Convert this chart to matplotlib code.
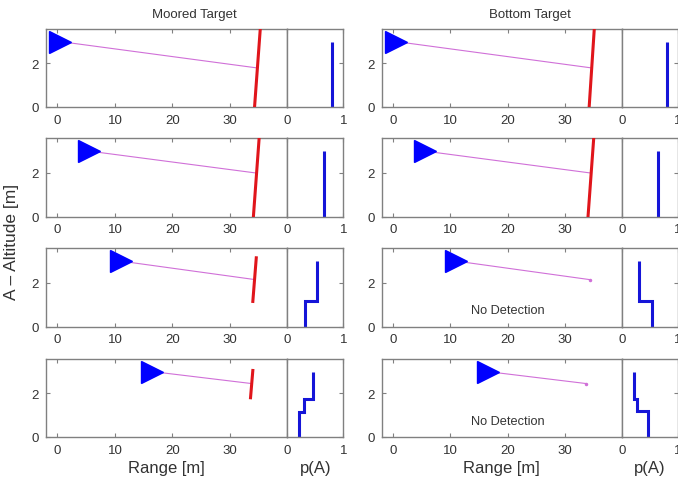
import matplotlib
matplotlib.use("Agg")
import matplotlib.pyplot as plt

plt.rcParams["font.family"] = ["Liberation Sans", "DejaVu Sans"]

columns = ["Moored Target", "Bottom Target"]

# source position (range, altitude) per row
src_range = [0.5, 5.5, 11.0, 16.5]
src_alt = [3.0, 3.0, 3.0, 3.0]

# end of the ray per row
ray_end_range = [34.5, 34.4, 34.4, 33.8]
ray_end_alt = [1.8, 2.0, 2.15, 2.45]

# detected target segment per row: (range bottom, range top, alt bottom, alt top)
moored_target = [
    (34.3, 35.3, 0.0, 3.6),
    (34.1, 35.1, 0.0, 3.6),
    (34.0, 34.6, 1.15, 3.15),
    (33.6, 34.0, 1.8, 3.05),
]
bottom_target = [
    (34.3, 35.2, 0.0, 3.6),
    (34.1, 35.1, 0.0, 3.6),
    None,
    None,
]

# p(A) step profiles: altitude edges and probability per bin
moored_edges = [[0, 3.0], [0, 3.0], [0, 1.15, 3.0], [0, 1.16, 1.75, 3.0]]
moored_p = [[0.80], [0.655], [0.32, 0.535], [0.214, 0.29, 0.45]]
bottom_edges = [[0, 3.0], [0, 3.0], [0, 1.16, 3.0], [0, 1.19, 1.75, 3.0]]
bottom_p = [[0.81], [0.64], [0.55, 0.31], [0.47, 0.28, 0.22]]

range_ticks = [0, 10, 20, 30]
alt_ticks = [0, 2]
p_ticks = [0, 1]

W, H = 678, 481
fig = plt.figure(figsize=(W / 100, H / 100), dpi=100)

row_bottoms_px = [108, 217.5, 327.5, 438]
row_h_px = 78.5
col_range_left_px = [46, 382]
range_w_px = [241.3, 239.7]
pa_w_px = 56

spine_col = "#808080"
text_col = "#333333"


def style(ax):
    for s in ax.spines.values():
        s.set_color(spine_col)
        s.set_linewidth(1.0)
    ax.tick_params(direction="in", length=3, width=0.8, colors=spine_col,
                   labelcolor=text_col, labelsize=9.5, top=True, right=True, pad=5)


for c in range(2):
    targets = moored_target if c == 0 else bottom_target
    edges_all = moored_edges if c == 0 else bottom_edges
    p_all = moored_p if c == 0 else bottom_p
    for r in range(4):
        b = 1 - row_bottoms_px[r] / H
        h = row_h_px / H
        l = col_range_left_px[c] / W
        w = range_w_px[c] / W
        ax = fig.add_axes([l, b, w, h])
        pax = fig.add_axes([l + w, b, pa_w_px / W, h])

        ax.plot([src_range[r], ray_end_range[r]], [src_alt[r], ray_end_alt[r]],
                color="#d070d8", lw=0.8, zorder=2)
        ax.plot(src_range[r], src_alt[r], marker=">", ms=16, color="#0000ff",
                mec="#0000ff", zorder=3, clip_on=False)
        t = targets[r]
        if t is not None:
            ax.plot([t[0], t[1]], [t[2], t[3]], color="#e0151b", lw=2.2, zorder=4)
        else:
            ax.plot(ray_end_range[r], ray_end_alt[r], marker=".", ms=3,
                    color="#d070d8", zorder=4)
            ax.text(20, 0.75, "No Detection", ha="center", va="center",
                    fontsize=9.2, color=text_col)

        ax.set_xlim(-2, 40)
        ax.set_ylim(0, 3.6)
        ax.set_xticks(range_ticks)
        ax.set_yticks(alt_ticks)
        style(ax)
        ax.tick_params(right=False)

        pax.stairs(p_all[r], edges_all[r], orientation="horizontal",
                   baseline=None, color="#1515d8", lw=2.2)
        pax.set_xlim(0, 1)
        pax.set_ylim(0, 3.6)
        pax.set_xticks(p_ticks)
        pax.set_yticks(alt_ticks)
        style(pax)
        pax.tick_params(labelleft=False, left=False)

        if r == 0:
            fig.text(l + (w + pa_w_px / W) / 2, 1 - 15 / H, columns[c],
                     ha="center", va="center", fontsize=9.5, color=text_col)
        if r == 3:
            ax.set_xlabel("Range [m]", fontsize=12, color=text_col, labelpad=3)
            pax.set_xlabel("p(A)", fontsize=12, color=text_col, labelpad=3)

fig.text(12 / W, 1 - 242 / H, "A \u2013 Altitude [m]", rotation=90,
         ha="center", va="center", fontsize=12.5, color=text_col)

fig.savefig("out.png", dpi=100)
